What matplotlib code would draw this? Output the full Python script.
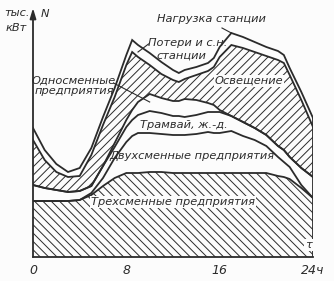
import numpy as np
import matplotlib
matplotlib.use("Agg")
import matplotlib.pyplot as plt

# daily load graph of a power station, layers from bottom to top
hours = [0, 1, 2, 3, 4, 5, 6, 7, 8, 8.5, 9, 10, 11, 12, 12.5, 13, 14, 15, 15.5, 16,
         17, 18, 19, 20, 21, 21.5, 22, 23, 24]
three_shift = [56, 56, 56, 56, 57, 62, 71, 79, 84, 84, 84, 85, 85, 84, 84, 84, 84, 84, 84, 84,
               84, 84, 84, 84, 81, 80, 78, 69, 59]
two_shift = [0, 0, 0, 0, 0, 2, 8, 20, 31, 37, 40, 39, 38, 38, 38, 38, 39, 41, 40, 40,
             42, 37, 33, 27, 19, 15, 12, 3, 0]
tram = [16, 13, 11, 9, 9, 7, 12, 11, 15, 16, 18, 22, 21, 19, 19, 18, 19, 20, 21, 21,
        15, 14, 12, 11, 11, 12, 10, 17, 21]
one_shift = [0, 0, 0, 0, 0, 0, 0, 4, 7, 10, 13, 17, 15, 15, 15, 18, 15, 9, 7, 2,
             0, 0, 0, 0, 0, 0, 0, 0, 0]
lighting = [45, 28, 18, 15, 15, 31, 41, 46, 55, 58, 45, 29, 24, 21, 19, 20, 25, 32, 38, 53,
            71, 74, 76, 79, 86, 87, 82, 68, 50]
losses = [12, 10, 8, 5, 8, 7, 8, 9, 10, 12, 12, 12, 12, 10, 9, 9, 8, 8, 9, 10,
          12, 11, 10, 9, 9, 8, 7, 8, 9]

tick_pos = [0, 8, 16, 24]
tick_text = ["0", "8", "16", "24ч"]

ink = "#2b2b2b"
paper = "#fcfcfc"
fam = ["Liberation Sans Narrow", "DejaVu Sans"]
plt.rcParams["hatch.linewidth"] = 0.7

fig = plt.figure(figsize=(3.34, 2.81), dpi=100, facecolor=paper)
ax = fig.add_axes([33 / 334, 24 / 281, 280 / 334, 249 / 281])
ax.set_facecolor(paper)

layers = np.vstack([three_shift, two_shift, tram, one_shift, lighting, losses])
bounds = np.cumsum(layers, axis=0)

# hatched layers
ax.fill_between(hours, 0, bounds[0], facecolor=paper, edgecolor=ink,
                hatch="\\\\\\\\", linewidth=0)
ax.fill_between(hours, bounds[3], bounds[4], facecolor=paper, edgecolor=ink,
                hatch="////", linewidth=0)

for b in bounds:
    ax.plot(hours, b, color=ink, lw=1.3, solid_joinstyle="miter")
ax.vlines(hours[-1], 0, bounds[-1][-1], color=ink, lw=1.3)

ax.set_xlim(0, 24)
ax.set_ylim(0, 249)
for s in ["top", "right", "left"]:
    ax.spines[s].set_visible(False)
ax.spines["bottom"].set_color(ink)
ax.spines["bottom"].set_linewidth(1.3)
ax.set_yticks([])
ax.set_xticks(tick_pos)
ax.set_xticklabels(tick_text, fontstyle="italic", fontsize=9, color=ink, family=fam)
ax.tick_params(axis="x", length=0, pad=5)

ax.annotate("", xy=(0, 249), xytext=(0, 0), annotation_clip=False,
            arrowprops=dict(arrowstyle="-|>,head_length=0.6,head_width=0.18",
                            color=ink, lw=1.3, shrinkA=0, shrinkB=0))

kw = dict(fontstyle="italic", color=ink, family=fam, fontsize=8.2)
box = dict(facecolor=paper, edgecolor="none", pad=0.6)

ax.text(0.7, 243, "N", ha="left", va="center", **kw)
ax.text(-1.4, 244, "тыс.", ha="center", va="center", **kw)
ax.text(-1.4, 229, "кВт", ha="center", va="center", **kw)

ax.text(15.3, 238, "Нагрузка станции", ha="center", va="center", **kw)
ax.plot([16.2, 17.0], [229, 224], color=ink, lw=0.8)

ax.text(13.3, 214, "Потери и с.н.", ha="center", va="center", **kw)
ax.text(12.7, 201, "станции", ha="center", va="center", **kw)
ax.plot([9.9, 9.0], [213, 205], color=ink, lw=0.8)

ax.text(3.5, 171, "Односменные\nпредприятия", ha="center", va="center",
        linespacing=1.0, **kw)
ax.plot([6.9, 10.0], [174, 155], color=ink, lw=0.8)

ax.text(18.5, 176, "Освещение", ha="center", va="center", bbox=box, **kw)
ax.text(12.9, 132, "Трамвай, ж.-д.", ha="center", va="center", **kw)
ax.text(13.6, 101, "Двухсменные предприятия", ha="center", va="center", **kw)
ax.text(12.0, 55, "Трехсменные предприятия", ha="center", va="center", bbox=box, **kw)
ax.text(23.6, 12, "τ", ha="center", va="center", bbox=box, **kw)

fig.savefig("out.png", dpi=100, facecolor=paper)
